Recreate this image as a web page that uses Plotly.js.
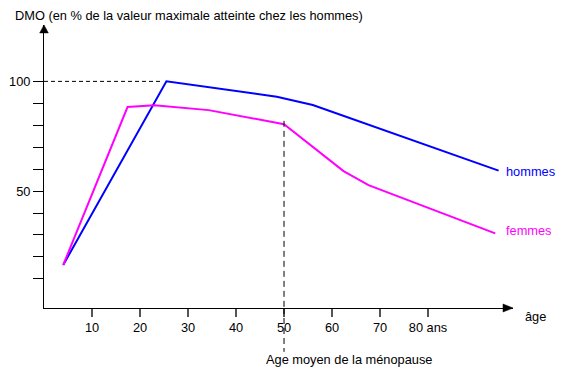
<!DOCTYPE html>
<html>
<head>
<meta charset="utf-8">
<script src="https://cdn.plot.ly/plotly-3.0.1.min.js"></script>
<style>html,body{margin:0;padding:0;background:#fff;}#chart{width:568px;height:369px;}</style>
</head>
<body>
<div id="chart"></div>
<script>
// Data
const agesHommes = [4, 25.5, 48.5, 56, 94.7];
const dmoHommes  = [16.3, 100, 93, 89.2, 59.3];
const agesFemmes = [4, 17.4, 23, 34.3, 50, 62.4, 67.6, 94];
const dmoFemmes  = [16.3, 88.3, 89.1, 86.9, 80.5, 59.1, 52.7, 30.7];
const xTickVals  = [10, 20, 30, 40, 50, 60, 70, 80];
const xTickText  = ['10', '20', '30', '40', '50', '60', '70', '80 ans'];
const yTickVals  = [10, 20, 30, 40, 50, 60, 70, 80, 90, 100];
const yTickText  = ['', '', '', '', '50', '', '', '', '', '100'];
const menopauseAge = 50;
const maxLevel = 100;
const peakAgeHommes = 24.2;

const FONT = 'Liberation Sans, Arial, sans-serif';
const FS = 12.8;

const traces = [
  {
    x: agesHommes, y: dmoHommes, mode: 'lines', name: 'hommes',
    line: {color: '#0000ff', width: 2}, hoverinfo: 'skip'
  },
  {
    x: agesFemmes, y: dmoFemmes, mode: 'lines', name: 'femmes',
    line: {color: '#ff00ff', width: 2}, hoverinfo: 'skip'
  }
];

const nH = agesHommes.length - 1;
const nF = agesFemmes.length - 1;

const layout = {
  width: 568, height: 369,
  margin: {l: 44, r: 55, t: 25, b: 61, pad: 0},
  paper_bgcolor: '#fff', plot_bgcolor: '#fff',
  showlegend: false,
  font: {family: FONT, size: FS, color: '#000'},
  title: {
    text: 'DMO (en % de la valeur maximale atteinte chez les hommes)',
    x: 15 / 568, xref: 'container', xanchor: 'left',
    y: 1 - 16 / 369, yref: 'container', yanchor: 'middle',
    font: {family: FONT, size: FS, color: '#000'}
  },
  xaxis: {
    range: [0, 97.7], showgrid: false, zeroline: false,
    showline: true, linecolor: '#000', linewidth: 1,
    ticks: 'outside', ticklen: 8, tickwidth: 1.5, tickcolor: '#555',
    tickvals: xTickVals, ticktext: xTickText,
    tickfont: {family: FONT, size: FS, color: '#000'}
  },
  yaxis: {
    range: [-3.3, 125.7], showgrid: false, zeroline: false,
    showline: true, linecolor: '#000', linewidth: 1,
    ticks: 'outside', ticklen: 10, tickwidth: 1, tickcolor: '#000',
    tickvals: yTickVals, ticktext: yTickText,
    tickfont: {family: FONT, size: FS, color: '#000'}
  },
  shapes: [
    {type: 'line', xref: 'x', yref: 'y', x0: 0, x1: peakAgeHommes, y0: maxLevel, y1: maxLevel,
     line: {color: '#000', width: 1, dash: '4px,3px'}},
    {type: 'line', xref: 'x', yref: 'y', x0: menopauseAge, x1: menopauseAge, y0: 82, y1: -3.3,
     line: {color: '#000', width: 1, dash: '6px,4px'}},
    {type: 'line', xref: 'x', yref: 'paper', x0: menopauseAge, x1: menopauseAge, y0: 0, y1: -0.155,
     line: {color: '#000', width: 1, dash: '6px,4px'}},
    {type: 'path', xref: 'paper', yref: 'paper', path: 'M 1 0 L 0.9787 0.0141 L 0.9787 -0.0141 Z',
     fillcolor: '#000', line: {color: '#000', width: 0.5}},
    {type: 'path', xref: 'paper', yref: 'paper', path: 'M 0 1 L -0.0092 0.972 L 0.0092 0.972 Z',
     fillcolor: '#000', line: {color: '#000', width: 0.5}}
  ],
  annotations: [
    {text: 'hommes', xref: 'x', yref: 'y', x: agesHommes[nH], y: dmoHommes[nH],
     xanchor: 'left', yanchor: 'middle', xshift: 5, yshift: -1, showarrow: false,
     font: {family: FONT, size: FS, color: '#0000ff'}},
    {text: 'femmes', xref: 'x', yref: 'y', x: agesFemmes[nF], y: dmoFemmes[nF],
     xanchor: 'left', yanchor: 'middle', xshift: 9, yshift: 3, showarrow: false,
     font: {family: FONT, size: FS, color: '#ff00ff'}},
    {text: 'âge', xref: 'paper', yref: 'paper', x: 1 + 10 / 469, y: -8 / 283,
     xanchor: 'left', yanchor: 'middle', showarrow: false,
     font: {family: FONT, size: FS, color: '#000'}},
    {text: 'Age moyen de la ménopause', xref: 'x', yref: 'paper', x: menopauseAge, y: -51 / 283,
     xanchor: 'left', xshift: -20, yanchor: 'middle', showarrow: false,
     font: {family: FONT, size: FS, color: '#000'}}
  ]
};

Plotly.newPlot('chart', traces, layout, {displayModeBar: false, staticPlot: true});
</script>
</body>
</html>
